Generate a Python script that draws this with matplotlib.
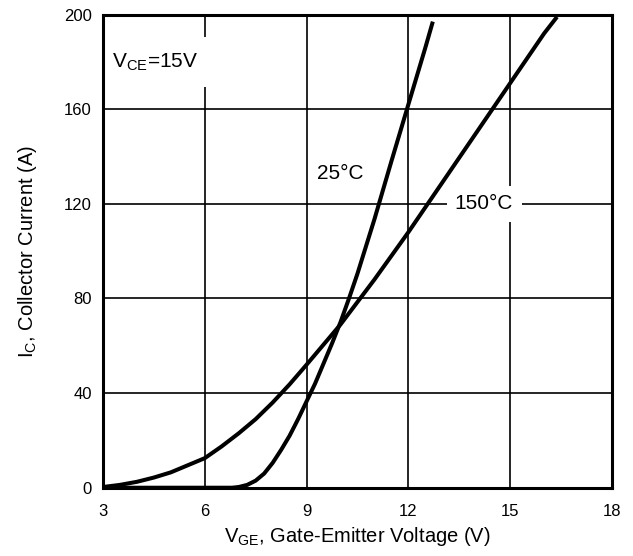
import matplotlib
matplotlib.use("Agg")
import matplotlib.pyplot as plt

plt.rcParams['font.family'] = ['Liberation Sans', 'DejaVu Sans']

# transfer characteristics
vge_25 = [3, 6.8, 7.0, 7.25, 7.5, 7.75, 8.0, 8.25, 8.5, 8.75, 9.0, 9.25, 9.5,
          9.75, 10.0, 10.25, 10.5, 10.75, 11.0, 11.5, 12.0, 12.5, 12.72]
ic_25 = [0, 0, 0.3, 1.2, 3.0, 6.0, 10.5, 16, 22, 29, 36.5, 44, 52.5,
         61, 70, 80, 90.5, 102, 113.5, 138, 162, 186, 197]

vge_150 = [3, 3.5, 4, 4.5, 5, 5.5, 6, 6.5, 7, 7.5, 8, 8.5, 9, 9.5, 10,
           10.5, 11, 11.5, 12, 13, 14, 15, 16, 16.38]
ic_150 = [0.3, 1.2, 2.5, 4.3, 6.5, 9.5, 12.5, 17.5, 23, 29, 36, 43.7, 52, 60.5, 69,
          78.5, 88, 98, 108, 129, 150, 171, 192, 199]

xticks = [3, 6, 9, 12, 15, 18]
yticks = [0, 40, 80, 120, 160, 200]

fig = plt.figure(figsize=(6.33, 5.56), dpi=100)
ax = fig.add_axes([0.1627, 0.1228, 0.8041, 0.8511])

ax.plot(vge_25, ic_25, color='black', lw=2.9, solid_capstyle='butt', zorder=3)
ax.plot(vge_150, ic_150, color='black', lw=2.9, solid_capstyle='butt', zorder=3)

ax.set_xlim(3, 18)
ax.set_ylim(0, 200)
ax.set_xticks(xticks)
ax.set_yticks(yticks)
ax.grid(True, color='black', lw=1.2)
ax.set_axisbelow(True)
ax.tick_params(axis='x', length=0, labelsize=12, pad=12)
ax.tick_params(axis='y', length=0, labelsize=12, pad=8)
for s in ax.spines.values():
    s.set_linewidth(2.2)
    s.set_zorder(4)

ax.text(3.27, 180, r'V$_{\mathregular{CE}}$=15V', fontsize=15, va='center',
        ha='left', bbox=dict(facecolor='white', edgecolor='none', pad=10), zorder=2)
ax.text(9.3, 133, '25°C', fontsize=15, va='center', ha='left', zorder=2)
ax.text(14.23, 120, '150°C', fontsize=15, va='center', ha='center',
        bbox=dict(facecolor='white', edgecolor='none', pad=6), zorder=2)

ax.set_xlabel(r'V$_{\mathregular{GE}}$, Gate-Emitter Voltage (V)', fontsize=14.5, labelpad=4)
ax.set_ylabel(r'I$_{\mathregular{C}}$, Collector Current (A)', fontsize=14.5, labelpad=18)

fig.savefig('out.png', dpi=100)
